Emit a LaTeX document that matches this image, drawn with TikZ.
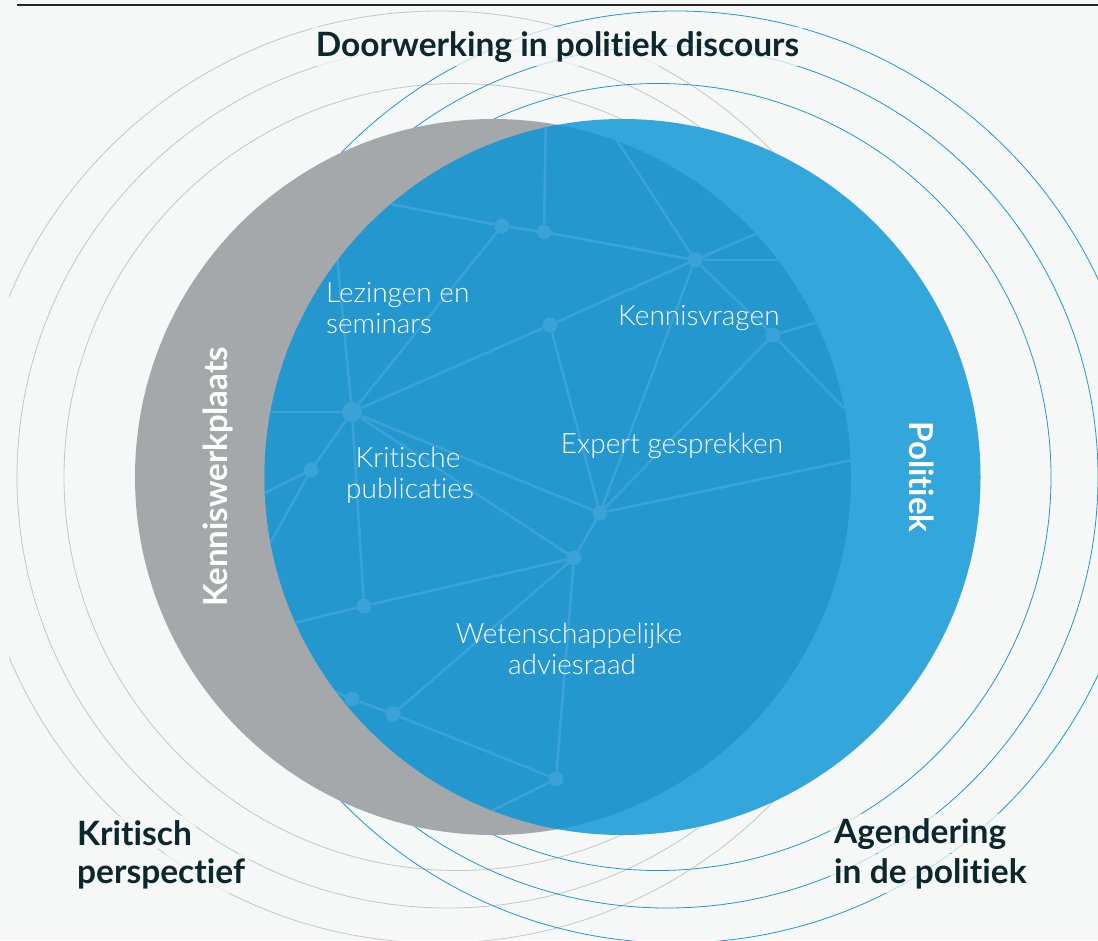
\documentclass[tikz,border=0pt]{standalone}
\usepackage{fontspec}
\setmainfont{Lato}[Ligatures=NoCommon]
\newfontfamily\lightfont{Lato Light}[Ligatures=NoCommon]
\definecolor{bg}{HTML}{F6F7F7}
\definecolor{graycirc}{HTML}{A5A8AB}
\definecolor{lightblue}{HTML}{33A6DB}
\definecolor{lensblue}{HTML}{2397CE}
\definecolor{netc}{HTML}{3AA2D6}
\definecolor{gringc}{HTML}{C6C6C6}
\definecolor{bringc}{HTML}{1E98D6}
\definecolor{headc}{HTML}{0C272D}
\tikzset{
  gring/.style={draw=gringc, line width=0.8pt},
  bring/.style={draw=bringc, line width=0.8pt},
  net/.style={draw=netc, line width=2.6pt},
  dot/.style={circle, fill=netc, inner sep=0pt, minimum size=15pt},
  hub/.style={circle, fill=netc, inner sep=0pt, minimum size=20pt},
  heading/.style={font=\bfseries\fontsize{33.5}{40}\selectfont, text=headc, inner sep=4pt, fill=bg, fill opacity=0.75, text opacity=1},
  inlabel/.style={font=\lightfont\fontsize{28}{32}\selectfont, text=white, inner sep=0pt},
  sidelabel/.style={font=\bfseries\fontsize{33}{38}\selectfont, text=white, inner sep=0pt},
}
\begin{document}
\begin{tikzpicture}[x=1pt,y=-1pt]
\useasboundingbox (0,0) rectangle (1098,940);
\fill[bg] (0,0) rectangle (1098,940);
\draw[draw=black!85, line width=1.2pt] (17,5) -- (1098,5);
% rings
\begin{scope}
\clip (9,8) rectangle (1098,940);
\draw[gring] (457.5,477) circle (393.5pt);
\draw[gring] (448,477) circle (431pt);
\draw[gring] (439,477) circle (466pt);
\draw[bring] (657.5,477) circle (393.5pt);
\draw[bring] (667,477) circle (431pt);
\draw[bring] (676,477) circle (466pt);
\end{scope}
% main circles
\fill[graycirc] (493,477) circle (358pt);
\fill[lightblue] (622.5,477) circle (358pt);
\begin{scope}
\clip (493,477) circle (358pt);
\clip (622.5,477) circle (358pt);
\fill[lensblue] (0,0) rectangle (1098,940);
% network
\node[dot] (n1) at (502,226) {};
\node[dot] (n2) at (544,232) {};
\node[dot] (n3) at (695,260) {};
\node[dot] (n4) at (550,325) {};
\node[dot] (n5) at (773,335) {};
\node[hub] (n6) at (352,412) {};
\node[dot] (n7) at (311,470) {};
\node[dot] (n8) at (600,513) {};
\node[dot] (n9) at (574,558) {};
\node[dot] (n10) at (364,606) {};
\node[dot] (n11) at (352,699) {};
\node[dot] (n12) at (393,714) {};
\node[dot] (n13) at (556,779) {};
\coordinate (e1) at (350,196);
\coordinate (e2) at (546,105);
\coordinate (e3) at (605,122);
\coordinate (e4) at (820,260);
\coordinate (e5) at (795,217);
\coordinate (e6) at (875,440);
\coordinate (e7) at (860,310);
\coordinate (e8) at (240,412);
\coordinate (e9) at (335,235);
\coordinate (e10) at (240,505);
\coordinate (e11) at (255,570);
\coordinate (e12) at (265,630);
\coordinate (e13) at (305,678);
\coordinate (e14) at (465,824);
\coordinate (e15) at (890,452);
\draw[net] (n1) -- (n2);
\draw[net] (n2) -- (n3);
\draw[net] (n1) -- (n6);
\draw[net] (n2) -- (e2);
\draw[net] (n1) -- (e1);
\draw[net] (n3) -- (e3);
\draw[net] (n3) -- (e4);
\draw[net] (n3) -- (e5);
\draw[net] (n3) -- (n4);
\draw[net] (n3) -- (n8);
\draw[net] (n3) -- (n5);
\draw[net] (n5) -- (e6);
\draw[net] (n5) -- (e7);
\draw[net] (n5) -- (n8);
\draw[net] (n4) -- (n6);
\draw[net] (n4) -- (n8);
\draw[net] (n6) -- (e8);
\draw[net] (n6) -- (e9);
\draw[net] (n6) -- (n7);
\draw[net] (n6) -- (n8);
\draw[net] (n6) -- (n9);
\draw[net] (n6) -- (n10);
\draw[net] (n7) -- (e10);
\draw[net] (n7) -- (e11);
\draw[net] (n10) -- (e12);
\draw[net] (n10) -- (n9);
\draw[net] (n9) -- (n12);
\draw[net] (n12) -- (n11);
\draw[net] (n11) -- (e13);
\draw[net] (n12) -- (n13);
\draw[net] (n13) -- (n9);
\draw[net] (n13) -- (e14);
\draw[net] (n9) -- (n8);
\draw[net] (n8) -- (e15);
\end{scope}
% inner labels
\node[inlabel, anchor=base west] (lez1) at (326,302) {Lezingen en};
\node[inlabel, anchor=base west] (lez2) at (326,333) {seminars};
\node[inlabel, anchor=base west] (kv) at (618,325) {Kennisvragen};
\node[inlabel, anchor=base] (kr1) at (408,467) {Kritische};
\node[inlabel, anchor=base] (kr2) at (410,498) {publicaties};
\node[inlabel, anchor=base] (eg) at (672,453) {Expert gesprekken};
\node[inlabel, anchor=base] (wa1) at (569,643) {Wetenschappelijke};
\node[inlabel, anchor=base] (wa2) at (572,674) {adviesraad};
% side labels
\node[sidelabel, rotate=90, anchor=base] (kw) at (227,477) {Kenniswerkplaats};
\node[sidelabel, rotate=-90, anchor=base] (pol) at (909,477) {Politiek};
% headings
\node[heading, anchor=base] (top) at (557.5,56) {Doorwerking in politiek discours};
\node[heading, anchor=base west] (kp1) at (73,845) {Kritisch};
\node[heading, anchor=base west] (kp2) at (73,883) {perspectief};
\node[heading, anchor=base west] (ag1) at (830,843) {Agendering};
\node[heading, anchor=base west] (ag2) at (830,883) {in de politiek};
\end{tikzpicture}
\end{document}
